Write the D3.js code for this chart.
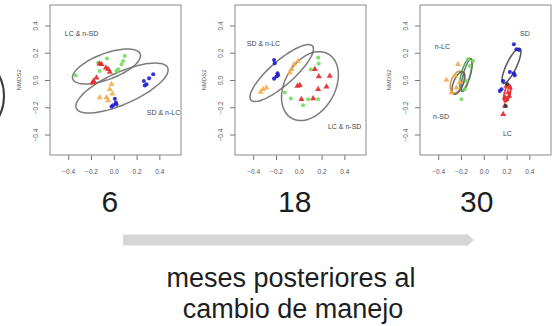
<!DOCTYPE html>
<html>
<head>
<meta charset="utf-8">
<script src="https://cdn.jsdelivr.net/npm/d3@7"></script>
<style>
  body { margin: 0; background: #fff; }
  svg { display: block; font-family: "Liberation Sans", Arial, sans-serif; }
</style>
</head>
<body>
<div id="chart"></div>
<script>
// months after the management change, one NMDS panel each
const months = ["6", "18", "30"];
const ticks = [-0.4, -0.2, 0.0, 0.2, 0.4];

// NMDS scores per group, [NMDS1, NMDS2]
const red6 = [[-0.108,0.115],[-0.07,0.09],[-0.05,0.078],[-0.035,0.059],[-0.152,0.017],[-0.176,-0.007],[-0.187,-0.02],[-0.125,0.12]];
const green6 = [[-0.138,0.127],[-0.06,0.157],[-0.123,0.066],[0.097,0.176],[0.082,0.139],[0.068,0.115],[0.038,0.078],[0.023,0.066],[-0.334,0.034]];
const orange6 = [[-0.02,-0.032],[-0.035,-0.068],[-0.012,-0.1],[-0.064,-0.129],[-0.123,-0.129],[-0.05,-0.15]];
const blue6 = [[0.009,-0.137],[0.018,-0.166],[-0.006,-0.185],[-0.02,-0.195],[0.023,-0.178],[0.264,-0.007],[0.287,-0.032],[0.31,0.012],[0.346,0.042],[0.272,-0.04]];

const blue18 = [[-0.217,0.147],[-0.211,0.122],[-0.187,0.049],[-0.196,0.025],[-0.217,0.010],[-0.182,0.034]];
const orange18 = [[-0.314,-0.068],[-0.334,-0.088],[-0.284,-0.056],[-0.064,0.078],[-0.041,0.115],[-0.006,0.139],[-0.079,0.054]];
const green18 = [[0.17,0.164],[0.105,0.078],[-0.123,-0.092],[-0.07,-0.136],[0.038,-0.185],[0.082,-0.141],[0.17,-0.141],[0.175,0.12]];
const red18 = [[0.141,0.078],[0.176,0.025],[0.272,0.029],[-0.012,-0.044],[0.009,-0.039],[0.17,-0.068],[0.243,-0.049],[0.023,-0.141],[0.126,-0.136]];

const blue30 = [[0.264,0.262],[0.287,0.225],[0.31,0.22],[0.229,0.059],[0.264,0.049],[0.272,0.034],[0.17,-0.007],[0.155,-0.068],[0.141,-0.08]];
const red30 = [[0.199,-0.044],[0.214,-0.092],[0.185,-0.129],[0.199,-0.141],[0.17,-0.251],[0.185,-0.19],[0.229,-0.056],[0.223,-0.117]];
const orange30 = [[-0.226,0.115],[-0.328,0],[-0.284,-0.092],[-0.24,-0.056],[-0.211,-0.019],[-0.25,0.03]];
const green30 = [[-0.094,0.139],[-0.138,0.152],[-0.152,-0.007],[-0.196,-0.141],[-0.167,-0.068],[-0.123,0.103]];
const dark30 = [[0.192,-0.19],[0.205,-0.03]];

// ellipses: centre, major half axis, minor half axis (data units)
const ellipses6 = [
  { c: [-0.064, 0.099], u: [0.296, 0.092], v: [0.040, -0.089], color: "#6e6e6e" },
  { c: [0.072, -0.059], u: [0.401, 0.149], v: [0.057, -0.107], color: "#6e6e6e" },
];
const ellipses18 = [
  { c: [-0.150, 0.051], u: [0.270, 0.198], v: [0.069, -0.066], color: "#6e6e6e" },
  { c: [0.098, -0.045], u: [0.162, 0.235], v: [0.190, -0.092], color: "#6e6e6e" },
];
const ellipses30 = [
  { c: [-0.234, -0.015], u: [0.0345, 0.079], v: [0.0495, -0.015], color: "#c98a3a" },
  { c: [-0.222, -0.022], u: [0.040, 0.082], v: [0.040, -0.013], color: "#555" },
  { c: [-0.158, 0.043], u: [0.037, 0.116], v: [0.038, -0.0085], color: "#3a9a3a" },
  { c: [-0.150, 0.035], u: [0.040, 0.120], v: [0.030, -0.007], color: "#666" },
  { c: [0.243, 0.104], u: [0.073, 0.128], v: [0.040, -0.0157], color: "#444" },
  { c: [0.206, -0.098], u: [0.020, 0.064], v: [0.025, -0.0057], color: "#d02020" },
];

// group labels inside the panels
const labels6 = [{ t: "LC & n-SD", x: -0.43, y: 0.326 }, { t: "SD & n-LC", x: 0.29, y: -0.26 }];
const labels18 = [{ t: "SD & n-LC", x: -0.457, y: 0.253 }, { t: "LC & n-SD", x: 0.256, y: -0.356 }];
const labels30 = [
  { t: "n-LC", x: -0.43, y: 0.227 }, { t: "n-SD", x: -0.446, y: -0.286 },
  { t: "SD", x: 0.318, y: 0.323 }, { t: "LC", x: 0.168, y: -0.41 },
];

const colors = { red: "#e3262b", green: "#74dc5e", orange: "#f3ad4e", blue: "#1c1cd4", dark: "#333" };

const panels = [
  { groups: [["green", green6], ["red", red6], ["orange", orange6], ["blue", blue6]], ellipses: ellipses6, labels: labels6 },
  { groups: [["orange", orange18], ["blue", blue18], ["green", green18], ["red", red18]], ellipses: ellipses18, labels: labels18 },
  { groups: [["orange", orange30], ["green", green30], ["blue", blue30], ["red", red30], ["dark", dark30]], ellipses: ellipses30, labels: labels30 },
];

const width = 554, height = 326;
const box = { top: 5, width: 131, height: 150, first: 50, step: 185 };

const svg = d3.select("#chart").append("svg")
  .attr("width", width)
  .attr("height", height)
  .attr("viewBox", `0 0 ${width} ${height}`);

// cut-off circle at the left edge of the slide
svg.append("circle")
  .attr("cx", -40).attr("cy", 96).attr("r", 44)
  .attr("fill", "none").attr("stroke", "#3a3a3a").attr("stroke-width", 2);

const triangle = d3.symbol().type(d3.symbolTriangle).size(16);
const dot = d3.symbol().type(d3.symbolCircle).size(13);

function ellipsePoints(e) {
  return d3.range(0, 60).map(i => {
    const t = i / 60 * 2 * Math.PI;
    return [e.c[0] + e.u[0] * Math.cos(t) + e.v[0] * Math.sin(t),
            e.c[1] + e.u[1] * Math.cos(t) + e.v[1] * Math.sin(t)];
  });
}

const fmt = d => d3.format(".1f")(d).replace("-", "\u2212");

panels.forEach((p, i) => {
  const left = box.first + i * box.step;
  const x = d3.scaleLinear().domain([-0.56, 0.59]).range([left, left + box.width]);
  const y = d3.scaleLinear().domain([-0.55, 0.55]).range([box.top + box.height, box.top]);
  const g = svg.append("g");

  const xAxis = g.append("g")
    .attr("transform", `translate(0,${box.top + box.height})`)
    .call(d3.axisBottom(x).tickValues(ticks).tickSize(5).tickPadding(9).tickFormat(fmt));
  const yAxis = g.append("g")
    .attr("transform", `translate(${left},0)`)
    .call(d3.axisLeft(y).tickValues(ticks).tickSize(5).tickFormat(fmt));
  [xAxis, yAxis].forEach(a => {
    a.select(".domain").remove();
    a.selectAll("line").attr("stroke", "#777");
    a.selectAll("text").attr("fill", "#555").style("font-size", "6.5px");
  });
  yAxis.selectAll("text")
    .attr("x", 0).attr("y", 0).attr("dy", 0)
    .attr("text-anchor", "middle")
    .attr("transform", "translate(-12,0) rotate(-90)");

  g.append("text")
    .attr("transform", `translate(${left - 29},${box.top + box.height / 2}) rotate(-90)`)
    .attr("text-anchor", "middle")
    .attr("fill", "#555")
    .style("font-size", "6px")
    .text("NMDS2");

  g.append("rect")
    .attr("x", left).attr("y", box.top)
    .attr("width", box.width).attr("height", box.height)
    .attr("fill", "none").attr("stroke", "#8a8a8a").attr("stroke-width", 1);

  const line = d3.line().x(d => x(d[0])).y(d => y(d[1])).curve(d3.curveCardinalClosed);
  g.selectAll(".ell")
    .data(p.ellipses)
    .join("path")
    .attr("class", "ell")
    .attr("d", e => line(ellipsePoints(e)))
    .attr("fill", "none")
    .attr("stroke", e => e.color)
    .attr("stroke-width", 1.5)
    .attr("opacity", 0.9);

  p.groups.forEach(([name, pts]) => {
    const shape = (name === "red" || name === "orange") ? triangle : dot;
    g.selectAll(`.pt-${name}`)
      .data(pts)
      .join("path")
      .attr("class", `pt-${name}`)
      .attr("d", shape)
      .attr("transform", d => `translate(${x(d[0])},${y(d[1])})`)
      .attr("fill", colors[name])
      .attr("opacity", 0.9);
  });

  g.selectAll(".lab")
    .data(p.labels)
    .join("text")
    .attr("class", "lab")
    .attr("x", d => x(d.x))
    .attr("y", d => y(d.y))
    .attr("fill", "#444")
    .style("font-size", "7px")
    .text(d => d.t);

  svg.append("text")
    .attr("x", x(0) - 4 + (i === 2 ? -3 : 0))
    .attr("y", 212)
    .attr("text-anchor", "middle")
    .attr("fill", "#1e1e1e")
    .style("font-size", "30px")
    .text(months[i]);
});

// timeline arrow
const arrowX = d3.scaleLinear().domain([0, 1]).range([123, 474]);
svg.append("path")
  .attr("d", `M${arrowX(0)},${234.5}H${arrowX(0.977)}V${233}L${arrowX(1)},${240}L${arrowX(0.977)},${247}V${245.5}H${arrowX(0)}Z`)
  .attr("fill", "#d6d6d6");

svg.append("text")
  .attr("x", 291).attr("y", 287)
  .attr("text-anchor", "middle")
  .attr("fill", "#1e1e1e")
  .style("font-size", "27px")
  .text("meses posteriores al");
svg.append("text")
  .attr("x", 293).attr("y", 318)
  .attr("text-anchor", "middle")
  .attr("fill", "#1e1e1e")
  .style("font-size", "27px")
  .text("cambio de manejo");
</script>
</body>
</html>
